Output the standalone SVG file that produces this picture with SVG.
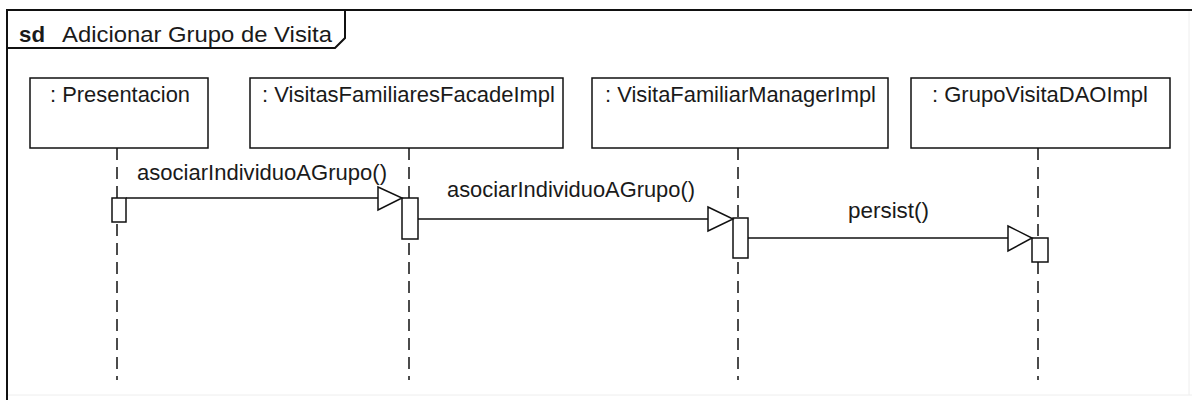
<svg xmlns="http://www.w3.org/2000/svg" width="1192" height="400" viewBox="0 0 1192 400">
  <style>
    .frame { fill: none; stroke: #111; stroke-width: 2; }
    .edge { fill: none; stroke: #eeeeee; stroke-width: 1; }
    .box { fill: #fff; stroke: #111; stroke-width: 1.5; }
    .life { stroke: #111; stroke-width: 1.5; stroke-dasharray: 12 7; fill: none; }
    .bar { fill: #fff; stroke: #111; stroke-width: 1.5; }
    .msg { stroke: #111; stroke-width: 1.5; fill: none; }
    .head { fill: #fff; stroke: #111; stroke-width: 1.5; stroke-linejoin: miter; }
    text { font-family: "Liberation Sans", Arial, sans-serif; font-size: 22px; fill: #1a1a1a; }
    .kw { font-weight: bold; }
  </style>

  <rect width="1192" height="400" fill="#fff"/>

  <!-- interaction frame -->
  <g id="frame">
    <line class="edge" x1="7" y1="395" x2="1192" y2="395"/>
    <line class="edge" x1="1189" y1="10" x2="1189" y2="395"/>
    <path class="frame" d="M7 400 V10 H1192"/>
    <path class="frame" d="M7 48 H335 L345 38 V10"/>
    <text class="kw" x="19" y="42" textLength="26" lengthAdjust="spacingAndGlyphs">sd</text>
    <text x="62" y="42" textLength="270" lengthAdjust="spacingAndGlyphs">Adicionar Grupo de Visita</text>
  </g>

  <!-- lifeline heads and dashed lifelines -->
  <g id="presentacion">
    <line class="life" x1="117" y1="148" x2="117" y2="380"/>
    <rect class="box" x="30" y="78" width="178" height="70"/>
    <text x="50" y="102" textLength="140" lengthAdjust="spacingAndGlyphs">: Presentacion</text>
    <rect class="bar" x="112" y="198" width="14" height="24"/>
  </g>

  <g id="facade">
    <line class="life" x1="409" y1="148" x2="409" y2="380"/>
    <rect class="box" x="250" y="78" width="313" height="70"/>
    <text x="262" y="102" textLength="293" lengthAdjust="spacingAndGlyphs">: VisitasFamiliaresFacadeImpl</text>
    <rect class="bar" x="402" y="198" width="16" height="41"/>
  </g>

  <g id="manager">
    <line class="life" x1="738" y1="148" x2="738" y2="380"/>
    <rect class="box" x="592" y="78" width="296" height="70"/>
    <text x="605" y="102" textLength="271" lengthAdjust="spacingAndGlyphs">: VisitaFamiliarManagerImpl</text>
    <rect class="bar" x="733" y="218" width="15" height="40"/>
  </g>

  <g id="dao">
    <line class="life" x1="1038" y1="148" x2="1038" y2="380"/>
    <rect class="box" x="911" y="78" width="259" height="70"/>
    <text x="932" y="102" textLength="216" lengthAdjust="spacingAndGlyphs">: GrupoVisitaDAOImpl</text>
    <rect class="bar" x="1032" y="238" width="16" height="24"/>
  </g>

  <!-- synchronous messages -->
  <g id="connectors">
    <line class="msg" x1="126" y1="198" x2="378" y2="198"/>
    <polygon class="head" points="378,187 402,198 378,210"/>
    <text x="137" y="180" textLength="250" lengthAdjust="spacingAndGlyphs">asociarIndividuoAGrupo()</text>

    <line class="msg" x1="418" y1="219" x2="708" y2="219"/>
    <polygon class="head" points="708,207 733,219 708,231"/>
    <text x="447" y="197" textLength="248" lengthAdjust="spacingAndGlyphs">asociarIndividuoAGrupo()</text>

    <line class="msg" x1="748" y1="238" x2="1008" y2="238"/>
    <polygon class="head" points="1008,226 1032,238 1008,251"/>
    <text x="848" y="218" textLength="81" lengthAdjust="spacingAndGlyphs">persist()</text>
  </g>
</svg>
